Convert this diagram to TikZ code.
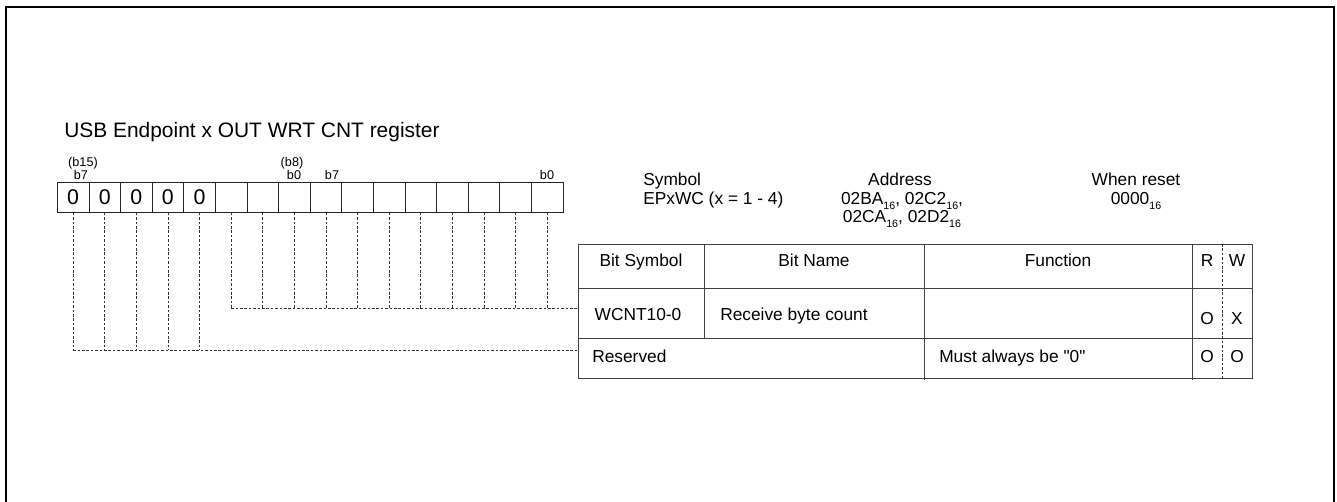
\documentclass[tikz,border=0pt]{standalone}
\usepackage{fontspec}
\setmainfont{Liberation Sans}
\usetikzlibrary{positioning}
\newcommand{\hexsub}[1]{\raisebox{-0.45ex}{\fontsize{8}{8}\selectfont #1}}
\begin{document}
\begin{tikzpicture}[x=0.75pt,y=-0.75pt]
\tikzstyle{cell}=[draw=black!85,line width=0.6pt,minimum width=23.7pt,minimum height=23pt,inner sep=0pt,outer sep=0pt,font=\fontsize{16}{16}\selectfont]
\tikzstyle{lbl}=[inner sep=0pt,anchor=base,font=\fontsize{9.5}{10}\selectfont]
\tikzstyle{txt}=[inner sep=0pt,anchor=base,font=\fontsize{13}{14}\selectfont]
\tikzstyle{link}=[black!80,line width=0.5pt,dash pattern=on 2pt off 1.3pt]
\tikzstyle{grid}=[black!75,line width=0.7pt]
\useasboundingbox (0,0) rectangle (1337,502);
\draw[line width=1.5pt] (6,502) -- (6,7) -- (1334,7) -- (1334,502);
\node[anchor=base west,inner sep=0pt,font=\fontsize{15.7}{16}\selectfont] (title) at (64,138) {USB Endpoint x OUT WRT CNT register};
\foreach \i in {0,...,15}
  \node[cell] (c\i) at ({57.3+31.6*(\i+0.5)},197.4) {};
\foreach \i in {0,...,4}
  \node[cell] at (c\i) {0};
\node[lbl] (b15) at (83,167) {(b15)};
\node[lbl] (h7) at (81,180) {b7};
\node[lbl] (b8) at (292,167) {(b8)};
\node[lbl] (h0) at (294,180) {b0};
\node[lbl] (l7) at (332,180) {b7};
\node[lbl] (l0) at (547,180) {b0};
\node[txt,anchor=base west] (sym) at (643,186) {Symbol};
\node[txt,anchor=base west] (symv) at (643,205) {EPxWC (x = 1 - 4)};
\node[txt] (adr) at (900,186) {Address};
\node[txt] (adr1) at (902,205) {02BA\hexsub{16}, 02C2\hexsub{16},};
\node[txt] (adr2) at (902,223) {02CA\hexsub{16}, 02D2\hexsub{16}};
\node[txt] (rst) at (1136,186) {When reset};
\node[txt] (rstv) at (1136,205) {0000\hexsub{16}};
\draw[grid] (578,244) rectangle (1252,378);
\draw[grid] (578,288.5) -- (1252,288.5) (578,338.5) -- (1252,338.5);
\draw[grid] (704,244) -- (704,338.5) (924,244) -- (924,380) (1192,244) -- (1192,380);
\draw[link] (1222.5,244) -- (1222.5,380);
\node[txt] (hsym) at (641,266) {Bit Symbol};
\node[txt] (hname) at (814,266) {Bit Name};
\node[txt] (hfun) at (1058,266) {Function};
\node[txt] (hr) at (1207,266) {R};
\node[txt] (hw) at (1237,266) {W};
\node[txt] (wsym) at (638,320) {WCNT10-0};
\node[txt,anchor=base west] (wname) at (720,320) {Receive byte count};
\node[txt] (wr) at (1207,324) {O};
\node[txt] (ww) at (1237,324) {X};
\node[txt,anchor=base west] (rsv) at (592,362) {Reserved};
\node[txt,anchor=base west] (rfun) at (939,362) {Must always be \textquotedbl 0\textquotedbl};
\node[txt] (rr) at (1207,362) {O};
\node[txt] (rw) at (1237,362) {O};
\coordinate (wc) at (578,308);
\coordinate (rs) at (578,350);
\foreach \i in {5,...,15}
  \draw[link] (c\i.south) -- (c\i.south |- wc);
\draw[link] (c5.south |- wc) -- (wc);
\foreach \i in {0,...,4}
  \draw[link] (c\i.south) -- (c\i.south |- rs);
\draw[link] (c0.south |- rs) -- (rs);
\end{tikzpicture}
\end{document}
